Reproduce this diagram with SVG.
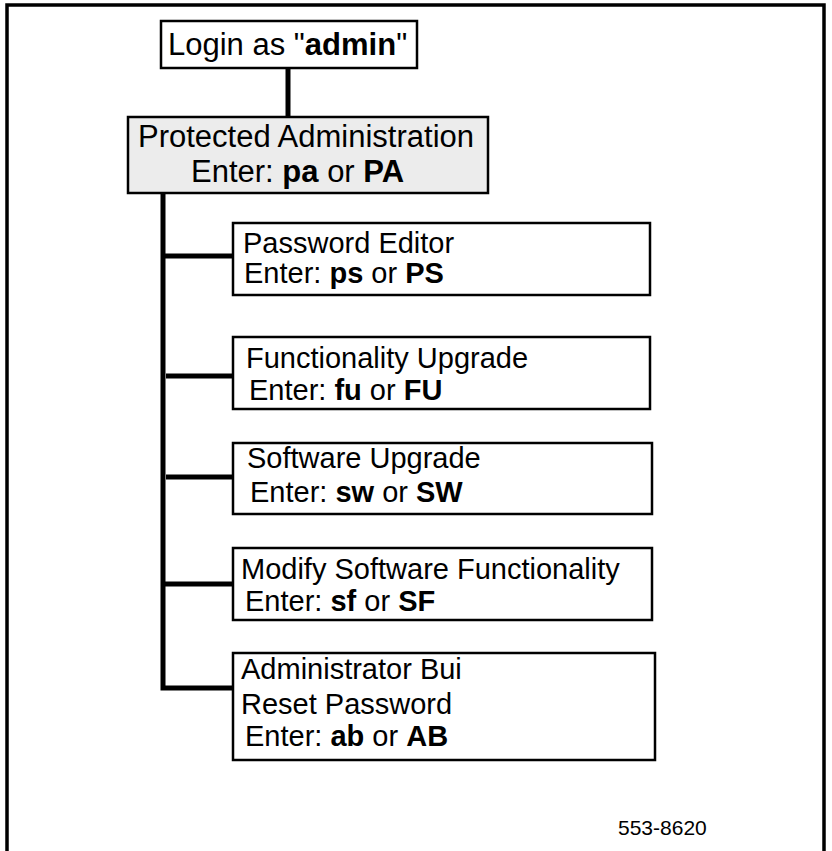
<svg xmlns="http://www.w3.org/2000/svg" width="832" height="851" viewBox="0 0 832 851">
  <style>
    text { font-family: "Liberation Sans", Arial, sans-serif; fill: #000; }
    .big { font-size: 31px; }
    .med { font-size: 29px; }
    .b { font-weight: bold; }
    .box { fill: #fff; stroke: #000; stroke-width: 2.5; }
    .grey { fill: #ececec; stroke: #000; stroke-width: 2.5; }
    .wire { fill: none; stroke: #000; stroke-width: 5; stroke-linejoin: miter; stroke-linecap: butt; }
  </style>
  <rect width="832" height="851" fill="#fff"/>
  <!-- open frame (no bottom edge) -->
  <path d="M7,851 V5 H824 V851" fill="none" stroke="#000" stroke-width="3.5"/>

  <g id="connectors">
    <line class="wire" x1="288" y1="68" x2="288" y2="117"/>
    <path class="wire" d="M163,193 V688 H233"/>
    <line class="wire" x1="163" y1="256" x2="233" y2="256"/>
    <line class="wire" x1="166" y1="376" x2="233" y2="376"/>
    <line class="wire" x1="166" y1="477" x2="233" y2="477"/>
    <line class="wire" x1="163" y1="584" x2="233" y2="584"/>
  </g>

  <g id="login">
    <rect class="box" x="161" y="21" width="256" height="47"/>
    <text class="big" x="168" y="55">Login as "<tspan class="b">admin</tspan>"</text>
  </g>

  <g id="protected-admin">
    <rect class="grey" x="128" y="117" width="360" height="76"/>
    <text class="big" x="138" y="147">Protected Administration</text>
    <text class="big" x="191" y="182">Enter: <tspan class="b">pa</tspan> or <tspan class="b">PA</tspan></text>
  </g>

  <g id="password-editor">
    <rect class="box" x="233" y="223" width="417" height="72"/>
    <text class="med" x="243" y="253">Password Editor</text>
    <text class="med" x="244" y="283">Enter: <tspan class="b">ps</tspan> or <tspan class="b">PS</tspan></text>
  </g>

  <g id="functionality-upgrade">
    <rect class="box" x="233" y="337" width="417" height="72"/>
    <text class="med" x="246" y="368">Functionality Upgrade</text>
    <text class="med" x="249" y="400">Enter: <tspan class="b">fu</tspan> or <tspan class="b">FU</tspan></text>
  </g>

  <g id="software-upgrade">
    <rect class="box" x="233" y="443" width="419" height="71"/>
    <text class="med" x="247" y="468">Software Upgrade</text>
    <text class="med" x="250" y="502">Enter: <tspan class="b">sw</tspan> or <tspan class="b">SW</tspan></text>
  </g>

  <g id="modify-software">
    <rect class="box" x="233" y="548" width="419" height="72"/>
    <text class="med" x="241" y="579">Modify Software Functionality</text>
    <text class="med" x="245" y="611">Enter: <tspan class="b">sf</tspan> or <tspan class="b">SF</tspan></text>
  </g>

  <g id="admin-bui">
    <rect class="box" x="233" y="653" width="422" height="107"/>
    <text class="med" x="241" y="679">Administrator Bui</text>
    <text class="med" x="241" y="714">Reset Password</text>
    <text class="med" x="245" y="746">Enter: <tspan class="b">ab</tspan> or <tspan class="b">AB</tspan></text>
  </g>

  <text x="618" y="835" font-size="21">553-8620</text>
</svg>
